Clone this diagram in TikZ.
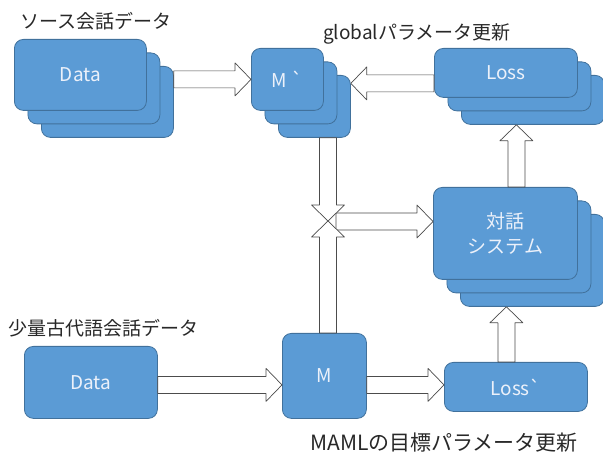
\documentclass[tikz,border=0pt]{standalone}
\usepackage{fontspec}
\setmainfont{Noto Sans CJK JP}[Ligatures=TeXOff]
\usetikzlibrary{calc}
\definecolor{boxfill}{RGB}{91,155,213}
\definecolor{boxline}{RGB}{65,113,156}
\definecolor{boxtext}{RGB}{236,241,250}
\definecolor{labtext}{RGB}{40,40,40}
\begin{document}
\begin{tikzpicture}[x=1pt, y=-1pt, line join=round, font=\fontsize{19}{25}\selectfont,
	blk/.style={draw=boxline, fill=boxfill, line width=0.8pt, rounded corners=9pt, anchor=north west, inner sep=0pt, text=boxtext, align=center},
	lab/.style={anchor=west, inner sep=0pt, text=labtext},
	barrow/.style={draw=black!70, fill=white, line width=0.7pt,
		to path={($(\tikztotarget)!16pt!(\tikztostart)$) coordinate (bhead)
			($(\tikztostart)!8.5pt!90:(\tikztotarget)$) -- ($(bhead)!8.5pt!90:(\tikztotarget)$)
			-- ($(bhead)!16.5pt!90:(\tikztotarget)$) -- (\tikztotarget)
			-- ($(bhead)!16.5pt!-90:(\tikztotarget)$) -- ($(bhead)!8.5pt!-90:(\tikztotarget)$)
			-- ($(\tikztostart)!8.5pt!-90:(\tikztotarget)$) -- cycle}}]
	\useasboundingbox (0,0) rectangle (603,457);
	% stacked boxes
	\foreach \i/\d in {3/27,2/13.5} {
		\node[blk, minimum width=132pt, minimum height=71pt] (data\i) at (14+\d,39+\d) {};
		\node[blk, minimum width=72pt, minimum height=62pt] (m\i) at (251+\d,48+\d) {};
		\node[blk, minimum width=143pt, minimum height=49pt] (loss\i) at (434+\d,48+\d) {};
		\node[blk, minimum width=144pt, minimum height=92pt] (dlg\i) at (433+\d,187+\d) {};
	}
	\node[blk, minimum width=132pt, minimum height=71pt] (data1) at (14,39) {Data};
	\node[blk, minimum width=72pt, minimum height=62pt] (m1) at (251,48) {M \symbol{96}};
	\node[blk, minimum width=143pt, minimum height=49pt] (loss1) at (434,48) {Loss};
	\node[blk, minimum width=144pt, minimum height=92pt] (dlg1) at (433,187) {対話\\システム};
	% single boxes
	\node[blk, minimum width=133pt, minimum height=72pt] (datab) at (24,346) {Data};
	\node[blk, minimum width=84pt, minimum height=85pt] (m0) at (282,333) {M};
	\node[blk, minimum width=143pt, minimum height=49pt] (lossb) at (444,362) {Loss\symbol{96}};
	% labels
	\node[lab] (srclab) at (20,21) {ソース会話データ};
	\node[lab] (glab) at (323,34) {globalパラメータ更新};
	\node[lab] (fewlab) at (8,328) {少量古代語会話データ};
	\node[lab, font=\fontsize{21}{25}\selectfont] (mamllab) at (310,443) {MAMLの目標パラメータ更新};
	% arrow ends
	\coordinate (gsrc) at ($(loss1.west)+(0,10.5)$);
	\coordinate (cross) at (328,221);
	\coordinate (hsrc) at ($(cross)+(8,0.5)$);
	\coordinate (lsrc) at ($(lossb.north)+(-9.5,0)$);
	\coordinate (dsrc) at ($(dlg1.north)+(11,0)$);
	\coordinate (msrc) at ($(m0.east)+(0,9)$);
	% block arrows
	\draw[barrow] (data3.east |- m1.west) to (m1.west);
	\draw[barrow] (gsrc) to (m3.east |- gsrc);
	\draw[barrow] (hsrc) to (dlg1.west |- hsrc);
	\draw[barrow] (cross |- m3.south) to (cross);
	\draw[barrow] (cross |- m0.north) to (cross);
	\draw[barrow] (lsrc) to (lsrc |- dlg3.south);
	\draw[barrow] (dsrc) to (dsrc |- loss3.south);
	\draw[barrow] (datab.east |- msrc) to (m0.west |- msrc);
	\draw[barrow] (msrc) to (lossb.west |- msrc);
\end{tikzpicture}
\end{document}
